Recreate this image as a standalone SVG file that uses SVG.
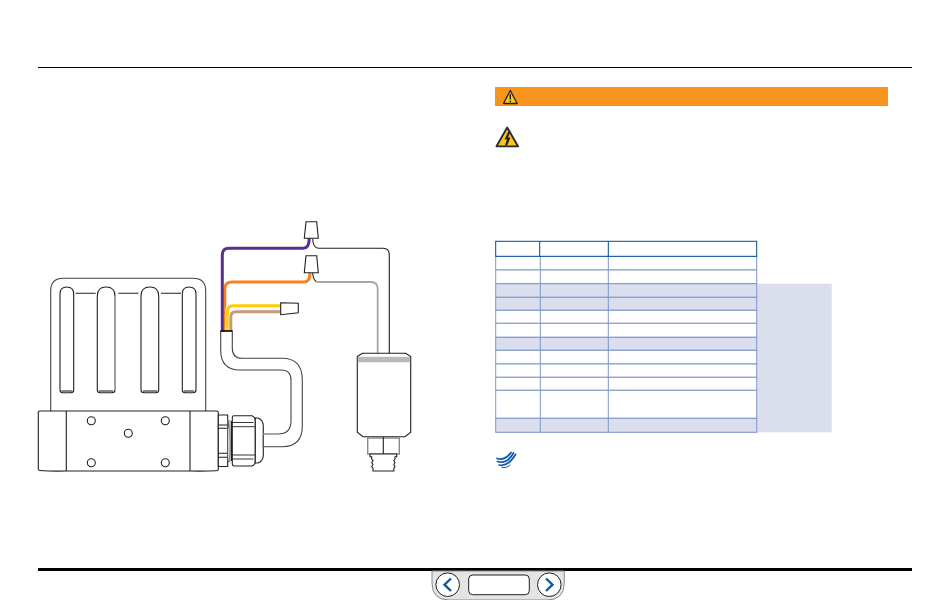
<svg xmlns="http://www.w3.org/2000/svg" width="950" height="600" viewBox="0 0 950 600">
<style>
.o{fill:none;stroke:#231f20;stroke-width:1.1}
.w{fill:#fff;stroke:#231f20;stroke-width:1.1}
.g{fill:none;stroke:#a8a8a8;stroke-width:1.4}
.wire{fill:none;stroke-width:3}
.halo{fill:none;stroke:#fff;stroke-width:4.4}
.cell{stroke:#7f95c9;stroke-width:1}
.s{fill:#dadeed}
.n{fill:#fff}
.hd{fill:#fff;stroke:#004a8f;stroke-width:1}
.chev{fill:none;stroke:#0d5a9e;stroke-width:2.4}
</style>
<rect width="950" height="600" fill="#fff"/>
<g id="rules">
<rect x="38" y="67" width="874" height="1" fill="#000"/>
<rect x="38" y="568" width="874" height="3" fill="#000"/>
</g>
<g id="valve">
<path class="o" d="M50.7,411V291Q50.7,278.3 63.5,278.3H193Q205.7,278.3 205.7,291V411" style="stroke:#444"/>
<path class="o" d="M75.7,293.3H95.7M118.3,293.3H138.3M161,293.3H181"/>
<g id="slots">
<path class="o" d="M60,294Q60,287 66.8,287Q73.7,287 73.7,294V390Q73.7,392.7 71,392.7H62.7Q60,392.7 60,390Z"/>
<path class="o" d="M61.5,391H72.2"/>
<path class="o" d="M97.3,296Q97.3,287 106,287Q115,287 115,296V390Q115,392.7 112,392.7H100Q97.3,392.7 97.3,390Z"/>
<path class="g" d="M115,296V390" style="stroke-width:1.6"/>
<path class="o" d="M99,391H113"/>
<path class="o" d="M141,296Q141,287 150,287Q158.7,287 158.7,296V390Q158.7,392.7 156,392.7H144Q141,392.7 141,390Z"/>
<path class="o" d="M143,391H157"/>
<path class="o" d="M182.3,294Q182.3,287 189,287Q196,287 196,294V390Q196,392.7 193,392.7H185Q182.3,392.7 182.3,390Z"/>
<path class="o" d="M184,391H194"/>
</g>
<path class="w" d="M38.3,412Q38.3,411 40,411H216.5Q218.3,411 218.3,412.5V469.5Q218.3,470.7 216,470.7Q205,471.3 190,471H66.3Q50,471.3 40,470.5Q38.3,470.5 38.3,469Z"/>
<path class="o" d="M66.3,411V471M190,411V471"/>
<circle class="o" cx="91.3" cy="420.7" r="4"/>
<circle class="o" cx="165.3" cy="420.7" r="4"/>
<circle class="o" cx="128.3" cy="433.3" r="4"/>
<circle class="o" cx="91.3" cy="462.7" r="4"/>
<circle class="o" cx="165.3" cy="462.7" r="4"/>
</g>
<g id="fitting">
<path class="w" d="M218.3,415H227.7V466.5H218.3Z"/>
<path class="o" d="M218.3,425H227.7M218.3,428.3H227.7M218.3,453.3H227.7M218.3,457.3H227.7"/>
<path class="w" style="stroke:#555" d="M227.7,420Q232.7,440.5 229,461.7H227.7Z"/>
<path class="g" d="M230,420V462"/>
<path class="o" d="M231.5,421V461"/>
<path class="w" d="M232.3,417.5Q232.3,415.7 234,415.7H252Q255.3,417 255.3,421V461Q255.3,465 252,466H234Q232.3,466 232.3,464Z"/>
<path class="o" d="M232.3,422.5H253.5M232.3,426.7H255.3M232.3,455H255.3M232.3,459H253.5" style="stroke-width:.9"/>
<path class="w" d="M255.3,418H258Q263.3,420 263.3,426V455Q263.3,461 258,463H255.3Z"/>
</g>
<g id="connectors">
<path class="halo" d="M224.8,331V289Q224.8,282 232,282H304Q310,282 310,273"/>
<path class="wire" stroke="#f58220" d="M224.8,331V289Q224.8,282 232,282H304Q310,282 310,273"/>
<path class="wire" stroke="#5c2d91" d="M222.3,331V255Q222.3,248.3 229,248.3H303Q309.3,248.3 309.3,238"/>
<path class="halo" d="M227.6,331V311Q227.6,305.7 233,305.7H281"/>
<path class="wire" stroke="#ffcb05" d="M227.6,331V311Q227.6,305.7 233,305.7H281"/>
<path class="halo" d="M230.8,331V317Q230.8,311.7 236,311.7H281"/>
<path class="wire" stroke="#c49a7a" d="M230.8,331V317Q230.8,311.7 236,311.7H281"/>
<path class="o" d="M312.7,239Q313,248.3 319,248.3H383Q389.3,248.3 389.3,255V354"/>
<path class="g" d="M316,281.5Q316.5,282 319,282H371Q377.7,282 377.7,289V354" style="stroke-width:1.8"/>
<path class="o" d="M312.7,273Q313,279 316,281.5"/>
</g>
<g id="cable">
<path class="w" style="stroke:#444" d="M263.3,446.7H282Q302.3,446.7 302.3,426V380Q302.3,358.3 282,358.3H242Q232.3,358.3 232.3,348V331H220.7V350Q220.7,370 240,370H281Q291,370 291,380V421Q291,434 278,434H263.3Z"/>
<path d="M263.3,434H278" class="g"/>
<path d="M220.7,331H232.3" fill="none" stroke="#000" stroke-width="1.4"/>
</g>
<g id="nut1"><path class="w" d="M306,221.7H316.7L318.3,238.3H304.3Z"/></g>
<g id="nut2"><path class="w" d="M306,255.7H316.7L318.3,272.7H304.3Z"/></g>
<g id="nut3"><path class="w" d="M280.7,302.7L298.3,303.3V312.7L280.7,314.7Z"/></g>
<g id="sensor">
<path class="w" d="M357.3,356.5L362.3,353.3H405.7L410.7,356.5V432.3L405,436.7H363L357.3,432.3Z"/>
<rect x="357.9" y="356.8" width="52.2" height="5.5" fill="#b9babd"/>
<path class="w" d="M367.7,438H399.3V454H367.7Z" style="stroke:#8a8a8a;stroke-width:1.4"/>
<path class="o" d="M383.3,437V454"/>
<path class="w" d="M370,454H396.7V456.7H395V459L393.8,460.5L395,462.5L393.8,464.5L395,466.5L393.8,468.5V471H373V468.5L371.7,466.5L373,464.5L371.7,462.5L373,460.5L371.7,459V456.7H370Z"/>
</g>
<g id="warning-bar">
<rect x="495" y="87" width="393" height="19" fill="#f7941e"/>
<path d="M510.3,90.5L503.5,103.5H517.1Z" fill="#ffcb05" stroke="#231f20" stroke-width="1.3" stroke-linejoin="round"/>
<path d="M510.3,94V99.5" stroke="#231f20" stroke-width="1.4" fill="none"/>
<circle cx="510.3" cy="101.3" r=".9" fill="#231f20"/>
</g>
<g id="shock-icon">
<path d="M507.2,127.5L496.5,146.3H518Z" fill="#fcc419" stroke="#1f2a2a" stroke-width="1.8" stroke-linejoin="round"/>
<path d="M508.3,131.5L504.5,139.5H507L505,145.5L507.2,145.5L510.5,137.5H508L510.5,131.5Z" fill="#231f20"/>
</g>
<g id="table">
<rect x="757" y="283.7" width="74.7" height="148.6" class="s"/>
<g class="cell">
<rect x="495.7" y="256.3" width="261" height="13.7" class="n"/>
<rect x="495.7" y="270" width="261" height="13.7" class="n"/>
<rect x="495.7" y="283.7" width="261" height="13.6" class="s"/>
<rect x="495.7" y="297.3" width="261" height="13" class="s"/>
<rect x="495.7" y="310.3" width="261" height="13" class="n"/>
<rect x="495.7" y="323.3" width="261" height="14" class="n"/>
<rect x="495.7" y="337.3" width="261" height="13" class="s"/>
<rect x="495.7" y="350.3" width="261" height="13.7" class="n"/>
<rect x="495.7" y="364" width="261" height="13.3" class="n"/>
<rect x="495.7" y="377.3" width="261" height="13" class="n"/>
<rect x="495.7" y="390.3" width="261" height="28" class="n"/>
<rect x="495.7" y="418.3" width="261" height="14" class="s"/>
<path fill="none" d="M540.3,256.3V432.3M608.3,256.3V432.3"/>
</g>
<rect x="495.7" y="241.3" width="261" height="15" class="hd"/>
<path d="M539.7,241.3V256.3M608.3,241.3V256.3" fill="none" stroke="#004a8f"/>
</g>
<g id="logo" fill="none" stroke="#0f5aa6" stroke-linecap="round">
<path d="M497,458.5Q505,461 511,452.5" stroke-width="1.8"/>
<path d="M497.5,461.5Q507,464.5 513.5,453" stroke-width="1.8"/>
<path d="M499,465Q508,467 515.5,454.5" stroke-width="1.7"/>
<path d="M502,467.5Q507,468.2 510,465" stroke-width="1"/>
</g>
<g id="nav">
<path d="M432,571H564.3V583Q564.3,600 547,600H449Q432,600 432,583Z" fill="#e4e4e4" stroke="#8c8c8c"/>
<circle cx="447.7" cy="584.7" r="11.8" fill="#fff" stroke="#231f20"/>
<circle cx="549.3" cy="584.7" r="11.8" fill="#fff" stroke="#231f20"/>
<rect x="468.7" y="575" width="60.6" height="19.7" rx="4" fill="#fff" stroke="#231f20"/>
<path class="chev" d="M451,578.5L444.5,584.7L451,591"/>
<path class="chev" d="M546,578.5L552.5,584.7L546,591"/>
</g>
</svg>
